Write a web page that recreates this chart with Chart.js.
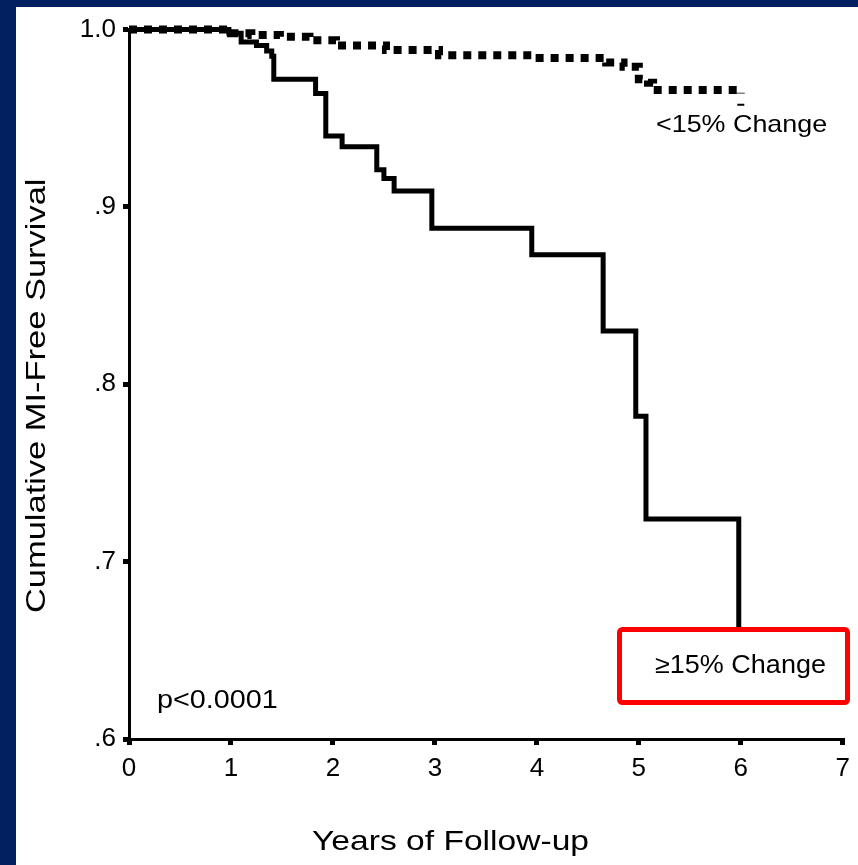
<!DOCTYPE html>
<html lang="en">
<head>
  <meta charset="UTF-8">
  <title>Cumulative MI-Free Survival</title>
  <script src="https://cdn.jsdelivr.net/npm/chart.js"></script>
  <style>
  body {
    background: #022060;
    margin: 0;
    width: 858px;
    height: 865px;
    overflow: hidden;
  }

  #panel {
    position: absolute;
    left: 16px;
    top: 7px;
    width: 842px;
    height: 858px;
    background: #ffffff;
  }
</style>
</head>
<body>

  <div id="panel">
    <canvas id="chart" width="842" height="858"></canvas>
  </div>

  <script>
    // Kaplan-Meier estimates, years of follow-up vs. cumulative MI-free survival
    const lowChangeYears = [0, 1.0, 1.2, 1.48, 1.77, 2.03, 2.52, 3.04, 3.98, 4.68, 4.85, 5.0, 5.09, 5.14, 6.0];
    const lowChangeSurv  = [1.0, 0.998, 0.997, 0.996, 0.994, 0.991, 0.9885, 0.9855, 0.984, 0.9815, 0.979, 0.972, 0.970, 0.966, 0.964];

    const highChangeYears = [0, 0.98, 1.1, 1.25, 1.35, 1.40, 1.42, 1.83, 1.93, 2.09, 2.43, 2.50, 2.60, 2.97, 3.95, 4.65, 4.97, 5.07, 5.98];
    const highChangeSurv  = [1.0, 0.998, 0.993, 0.991, 0.988, 0.985, 0.972, 0.964, 0.940, 0.934, 0.921, 0.916, 0.909, 0.888, 0.873, 0.830, 0.782, 0.724, 0.660];

    // censored observation at the end of the <15% group
    const censorYears = [6.0];
    const censorSurv  = [0.9576];

    const xTickLabels = ['0', '1', '2', '3', '4', '5', '6', '7'];
    const yTickLabels = ['.6', '.7', '.8', '.9', '1.0'];

    const toPoints = (xs, ys) => xs.map((x, i) => ({ x: x, y: ys[i] }));

    const FONT = '"Liberation Sans", Arial, sans-serif';
    Chart.defaults.font.family = FONT;
    Chart.defaults.color = '#000';

    // text a little wider than the plain font, like the original slide
    function wideText(ctx, text, x, y, size, sx, vertical) {
      ctx.save();
      ctx.translate(x, y);
      if (vertical) ctx.rotate(-Math.PI / 2);
      ctx.scale(sx, 1);
      ctx.font = size + 'px ' + FONT;
      ctx.fillStyle = '#000';
      ctx.textAlign = 'left';
      ctx.textBaseline = 'alphabetic';
      ctx.fillText(text, 0, 0);
      ctx.restore();
    }

    const labelsPlugin = {
      id: 'kmLabels',
      afterDatasetsDraw(chart) {
        const ctx = chart.ctx;
        // red box around the >=15% group label
        ctx.save();
        ctx.beginPath();
        ctx.roundRect(603.5, 622.5, 228, 73, 3);
        ctx.fillStyle = '#fff';
        ctx.fill();
        ctx.lineWidth = 5;
        ctx.strokeStyle = '#ff0000';
        ctx.stroke();
        ctx.restore();
      },
      afterDraw(chart) {
        const ctx = chart.ctx;
        wideText(ctx, '<15% Change', 640, 125, 24, 1.12);
        wideText(ctx, '\u226515% Change', 639, 666, 25, 1.08);
        wideText(ctx, 'p<0.0001', 141, 701, 25, 1.15);
        wideText(ctx, 'Years of Follow-up', 296, 843, 28, 1.2);
        wideText(ctx, 'Cumulative MI-Free Survival', 29, 606, 28, 1.23, true);
      }
    };

    const axisGrid = {
      drawOnChartArea: false,
      color: '#000',
      lineWidth: 5,
      tickWidth: 5,
      tickColor: '#000',
      tickLength: 6
    };

    const ctx = document.getElementById('chart').getContext('2d');
    const chart = new Chart(ctx, {
      type: 'line',
      data: {
        datasets: [
          {
            label: '<15% Change',
            data: toPoints(lowChangeYears, lowChangeSurv),
            borderColor: '#000',
            borderWidth: 8,
            borderDash: [8, 7],
            borderCapStyle: 'butt',
            stepped: true,
            pointRadius: 0,
            clip: 10
          },
          {
            label: '>=15% Change',
            data: toPoints(highChangeYears, highChangeSurv),
            borderColor: '#000',
            borderWidth: 5,
            borderJoinStyle: 'miter',
            stepped: true,
            pointRadius: 0,
            clip: 10
          },
          {
            label: 'censored',
            data: toPoints(censorYears, censorSurv),
            showLine: false,
            pointStyle: 'line',
            pointRadius: 3.5,
            pointBorderWidth: 2,
            borderColor: '#000'
          }
        ]
      },
      options: {
        responsive: false,
        animation: false,
        events: [],
        layout: { padding: { top: 15, right: 13, left: 0, bottom: 0 } },
        plugins: {
          legend: { display: false },
          tooltip: { enabled: false }
        },
        scales: {
          x: {
            type: 'linear',
            min: 0,
            max: 7,
            afterFit: scale => { scale.height = 126; },
            ticks: {
              stepSize: 1,
              padding: 8,
              font: { size: 26 },
              callback: (v, i) => xTickLabels[i]
            },
            grid: axisGrid,
            border: { color: '#000', width: 3 }
          },
          y: {
            type: 'linear',
            min: 0.6,
            max: 1.0,
            afterFit: scale => { scale.width = 113; },
            ticks: {
              stepSize: 0.1,
              padding: 7,
              font: { size: 26 },
              callback: (v, i) => yTickLabels[i]
            },
            grid: axisGrid,
            border: { color: '#000', width: 3 }
          }
        }
      },
      plugins: [labelsPlugin]
    });
  </script>

</body>
</html>
